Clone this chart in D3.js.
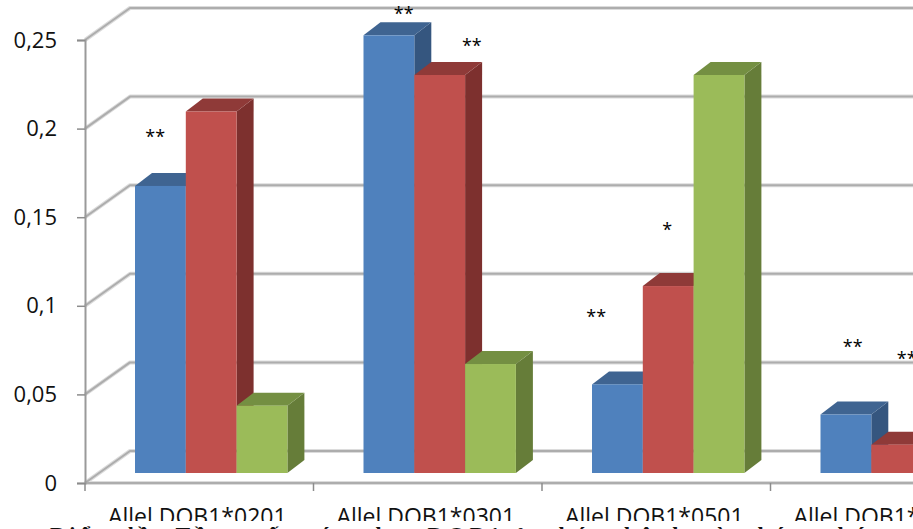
<!DOCTYPE html>
<html>
<head>
<meta charset="utf-8">
<script src="https://cdnjs.cloudflare.com/ajax/libs/d3/7.8.5/d3.min.js"></script>
<style>
html,body{margin:0;padding:0;background:#fff;overflow:hidden}
svg{display:block}
</style>
</head>
<body>
<svg id="chart" width="913" height="529"></svg>
<script>
// Allele frequencies per DQB1 allele, one array per series
const categories = ["Allel DQB1*0201", "Allel DQB1*0301", "Allel DQB1*0501", "Allel DQB1*0601"];
const seriesBlue = [0.162, 0.247, 0.050, 0.033];
const seriesRed = [0.204, 0.2246, 0.1055, 0.016];
const seriesGreen = [0.038, 0.0615, 0.2246, null];
const yTicks = [0, 0.05, 0.1, 0.15, 0.2, 0.25];
const yTickLabels = ["0", "0,05", "0,1", "0,15", "0,2", "0,25"];

// Significance marks: position along the category axis, height in value units
const starText = ["**", "**", "**", "*", "**", "**", "**"];
const starCategoryPos = [0.307, 1.395, 1.693, 2.548, 2.237, 3.36, 3.596];
const starValue = [0.197, 0.2664, 0.2483, 0.1445, 0.0954, 0.0784, 0.0717];

const captionText = "Biểu đồ: Tần suất các alen DQB1 ở nhóm bệnh và nhóm chứng";

const palette = [
  {front: "#4f81bd", top: "#3f6491", side: "#35567f"},
  {front: "#c0504d", top: "#8f3a38", side: "#7d302e"},
  {front: "#9bbb59", top: "#748f42", side: "#667d39"}
];
const series = [seriesBlue, seriesRed, seriesGreen];

const svg = d3.select("#chart");
const font = "'Open Sans', sans-serif";

// Chart frame
const left = 85, bandW = 228.5, floorY = 483, topY = 40;
const wallDx = 45, wallDy = 32;         // depth of the back wall
const barDx = 17, barDy = 13;           // depth of each bar
const baseLift = 10;                    // bars stand this far up the floor
const barInset = 50, barW = 50.8;
const gridColor = "#adadad";

const x = d3.scaleBand().domain(categories).range([left, left + bandW * categories.length]);
const xPos = d3.scaleLinear().domain([0, categories.length]).range([left, left + bandW * categories.length]);
const y = d3.scaleLinear().domain([0, 0.25]).range([floorY, topY]);

svg.append("defs").append("clipPath").attr("id", "labelClip")
  .append("rect").attr("x", 0).attr("y", 0).attr("width", 913).attr("height", 521);

// Back wall gridlines and their slanted returns along the side wall
const grid = svg.append("g").attr("fill", "none").attr("stroke-linejoin", "round");
const wallPath = v => d3.line()([[left, y(v)], [left + wallDx, y(v) - wallDy], [913, y(v) - wallDy]]);
[{w: 4, c: "#dcdcdc"}, {w: 2, c: gridColor}].forEach(s => {
  grid.selectAll(null).data(yTicks).join("path")
    .attr("d", wallPath).attr("stroke", s.c).attr("stroke-width", s.w);
  // front edge of the floor
  grid.append("path").attr("d", d3.line()([[left, floorY], [913, floorY]]))
    .attr("stroke", s.c).attr("stroke-width", s.w);
});

// Axes
const yAxis = d3.axisLeft(y).tickValues(yTicks)
  .tickFormat((d, i) => yTickLabels[i]).tickSize(8).tickPadding(20);
const gy = svg.append("g").attr("transform", `translate(${left},0)`).call(yAxis);
gy.select(".domain").attr("stroke", "#9a9a9a").attr("stroke-width", 2);
gy.selectAll(".tick line").attr("stroke", "#8c8c8c").attr("stroke-width", 1.5);
gy.selectAll("text").attr("font-family", font).attr("font-size", 22).attr("fill", "#111");

const labelClip = svg.append("g").attr("clip-path", "url(#labelClip)");
const xAxis = d3.axisBottom(x).tickSize(0).tickPadding(26);
const gx = labelClip.append("g").attr("transform", `translate(0,${floorY})`).call(xAxis);
gx.select(".domain").remove();
gx.selectAll("text").attr("font-family", font).attr("font-size", 23).attr("fill", "#111").attr("dx", -2);

svg.append("g").selectAll("line").data(d3.range(categories.length + 1)).join("line")
  .attr("x1", d => xPos(d)).attr("x2", d => xPos(d))
  .attr("y1", floorY).attr("y2", floorY + 8)
  .attr("stroke", "#8c8c8c").attr("stroke-width", 1.5);

// Bars: side and top faces first, then the front, left to right
const barsData = [];
categories.forEach((c, ci) => series.forEach((s, si) => {
  if (s[ci] != null) barsData.push({c, si, v: s[ci]});
}));
const base = floorY - baseLift;
const barTop = v => base - (y(0) - y(v));
const bars = svg.append("g").selectAll("g").data(barsData).join("g");
bars.each(function (d) {
  const g = d3.select(this);
  const x0 = x(d.c) + barInset + d.si * barW;
  const x1 = x0 + barW;
  const t = barTop(d.v);
  const col = palette[d.si];
  g.append("path").attr("fill", col.side).attr("d",
    d3.line()([[x1, t], [x1 + barDx, t - barDy], [x1 + barDx, base - barDy], [x1, base]]) + "Z");
  g.append("path").attr("fill", col.top).attr("d",
    d3.line()([[x0, t], [x0 + barDx, t - barDy], [x1 + barDx, t - barDy], [x1, t]]) + "Z");
  g.append("rect").attr("x", x0).attr("y", t).attr("width", barW).attr("height", base - t).attr("fill", col.front);
});

// Significance asterisks
svg.append("g").selectAll("text").data(starText).join("text")
  .text(d => d)
  .attr("x", (d, i) => xPos(starCategoryPos[i]))
  .attr("y", (d, i) => y(starValue[i]))
  .attr("dy", "0.5em")
  .attr("text-anchor", "middle")
  .attr("font-family", font).attr("font-size", 18).attr("fill", "#000");

// Figure caption running off the bottom edge
svg.append("text").text(captionText)
  .attr("x", 50).attr("y", 542)
  .attr("textLength", 850)
  .attr("font-family", "'Liberation Serif', serif")
  .attr("font-weight", "bold").attr("font-size", 22).attr("fill", "#111");
</script>
</body>
</html>
